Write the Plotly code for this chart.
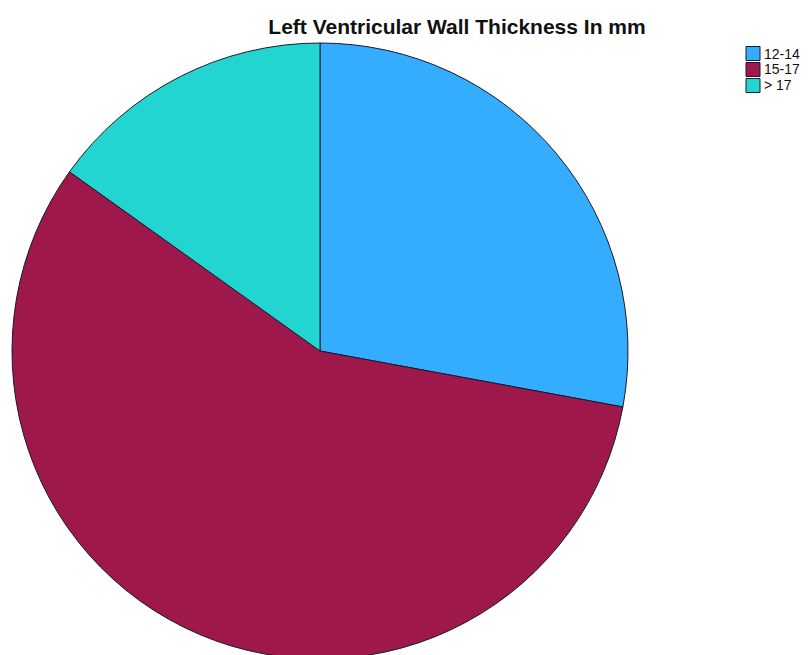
import plotly.graph_objects as go

# Patient counts by left ventricular wall thickness group
categories = ["12-14", "15-17", "> 17"]
counts = [24, 49, 13]
colors = ["#35adfe", "#9e184b", "#23d5d0"]

W, H = 810, 665

fig = go.Figure()
fig.add_trace(go.Pie(
    labels=categories,
    values=counts,
    marker=dict(colors=colors, line=dict(color="#1a1a2e", width=1)),
    sort=False,
    direction="clockwise",
    rotation=0,
    textinfo="none",
    hoverinfo="label+value+percent",
    showlegend=False,
    domain=dict(x=[12 / W, 628 / W], y=[(H - 659) / H, (H - 43) / H]),
))

# Legend: swatch + label per category
row0, row_h = 53.5, 16
for i, (lab, col) in enumerate(zip(categories, colors)):
    yc = row0 + i * row_h
    fig.add_shape(
        type="rect", xref="paper", yref="paper",
        x0=746 / W, x1=760 / W,
        y0=1 - (yc + 7) / H, y1=1 - (yc - 7) / H,
        fillcolor=col, line=dict(color="#1a1a2e", width=1),
    )
    fig.add_annotation(
        x=762 / W, y=1 - yc / H, xref="paper", yref="paper",
        text=lab, showarrow=False, xanchor="left", yanchor="middle",
        font=dict(family="Liberation Sans, Arial, sans-serif", size=14, color="#111111"),
    )

fig.update_layout(
    width=W, height=H,
    margin=dict(l=0, r=0, t=0, b=0),
    paper_bgcolor="white",
    plot_bgcolor="white",
    title=dict(
        text="<b>Left Ventricular Wall Thickness In mm</b>",
        x=457 / W, xanchor="center", xref="container",
        y=1 - 27 / H, yanchor="middle", yref="container",
        font=dict(family="Liberation Sans, Arial, sans-serif", size=21, color="#111111"),
    ),
)

fig.write_html(
    "out.html",
    post_script="document.documentElement.style.overflow='hidden';document.body.style.overflow='hidden';",
)
